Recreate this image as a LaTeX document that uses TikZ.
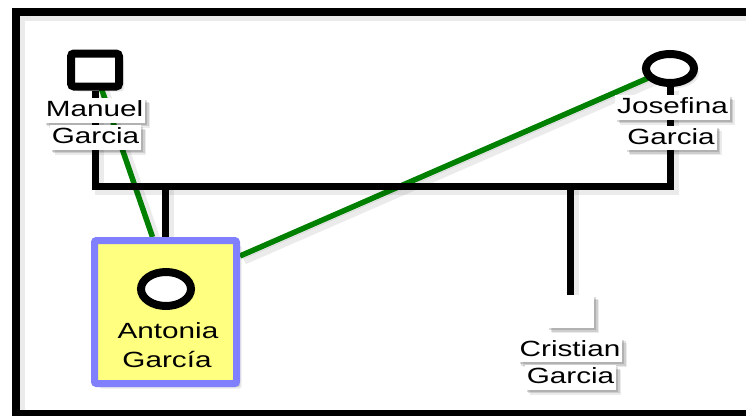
\documentclass[tikz,border=0pt]{standalone}
\usepackage{fontspec}
\setmainfont{Liberation Sans}
\usepackage{graphicx}
\usetikzlibrary{shapes.geometric,shadows,calc}
\pgfdeclarelayer{bg}
\pgfsetlayers{bg,main}
\definecolor{kinyellow}{RGB}{255,255,128}
\definecolor{kinblue}{RGB}{128,128,255}
\definecolor{kingreen}{RGB}{0,128,0}
\newcommand\wide[1]{\scalebox{1.35}[1]{#1}}
\begin{document}
\begin{tikzpicture}[x=1pt,y=-1pt,
  shade/.style={
    drop shadow={shadow xshift=2pt,shadow yshift=-2pt,opacity=0.14,fill=black},
    drop shadow={shadow xshift=3.5pt,shadow yshift=-3.5pt,opacity=0.12,fill=black},
    drop shadow={shadow xshift=5pt,shadow yshift=-5pt,opacity=0.08,fill=black}},
  lineshade/.style={
    preaction={draw=black,opacity=0.08,line width=9pt,transform canvas={xshift=4pt,yshift=-4pt}},
    preaction={draw=black,opacity=0.12,transform canvas={xshift=3pt,yshift=-3pt}}},
  namelbl/.style={fill=white, inner xsep=2pt, inner ysep=1.5pt, text height=17pt, text depth=4.5pt,
    font=\fontsize{22pt}{26pt}\selectfont, shade},
  maletag/.style={draw=black, line width=8pt, fill=white, rounded corners=3pt,
    minimum width=48pt, minimum height=33pt, inner sep=0pt, shade},
  femaletag/.style={ellipse, draw=black, line width=8pt, fill=white,
    minimum width=48pt, minimum height=29pt, inner sep=0pt},
  unknowntag/.style={fill=white, minimum width=47pt, minimum height=33pt, inner sep=0pt, shade},
  focusbox/.style={draw=kinblue, fill=kinyellow, line width=7pt, rounded corners=2pt,
    minimum width=142pt, minimum height=143pt, inner sep=0pt, shade},
  focustext/.style={font=\fontsize{22pt}{26pt}\selectfont, inner sep=0pt, anchor=base},
  famline/.style={draw=black, line width=7pt, line join=miter, lineshade},
  linkline/.style={draw=kingreen, line width=5.5pt, lineshade},
  framebox/.style={draw=black, line width=8pt, lineshade}
]
\useasboundingbox (0,0) rectangle (746,415);

% people
\node[maletag] (man) at (95,70) {};
\node[namelbl] (manL1) at (94.5,110.5) {\wide{Manuel}};
\node[namelbl] (manL2) at (95.5,137.5) {\wide{Garcia}};

\node[femaletag, shade] (jos) at (670,68.5) {};
\node[namelbl] (josL1) at (672.5,107.5) {\wide{Josefina}};
\node[namelbl] (josL2) at (671,138) {\wide{Garcia}};

\node[focusbox] (ant) at (165.5,312) {};
\node[femaletag, minimum width=50pt, minimum height=34pt] (antC) at (166,289) {};
\node[focustext] (antT1) at (168,338) {\wide{Antonia}};
\node[focustext] (antT2) at (167,367) {\wide{García}};

\node[unknowntag] (cri) at (570.5,311.5) {};
\node[namelbl] (criL1) at (570,350) {\wide{Cristian}};
\node[namelbl] (criL2) at (570.5,377.5) {\wide{Garcia}};

\coordinate (bar) at (0,186);

\begin{pgfonlayer}{bg}
  \begin{scope}
    \clip (0,0) rectangle (746,415);
    \draw[framebox] (16,12) rectangle (780,414);
  \end{scope}
  % links
  \draw[linkline] (man.center) -- ($(ant.north)+(-13,0)$);
  \draw[linkline] (jos.center) -- ($(ant.north east)+(0,19)$);
  % family tree
  \draw[famline] (man.south) -- (man.south |- bar) -- (jos.south |- bar) -- (jos.south);
  \draw[famline] (ant.north) -- (ant.north |- bar);
  \draw[famline] (cri.north) -- (cri.north |- bar);
\end{pgfonlayer}
\end{tikzpicture}
\end{document}
